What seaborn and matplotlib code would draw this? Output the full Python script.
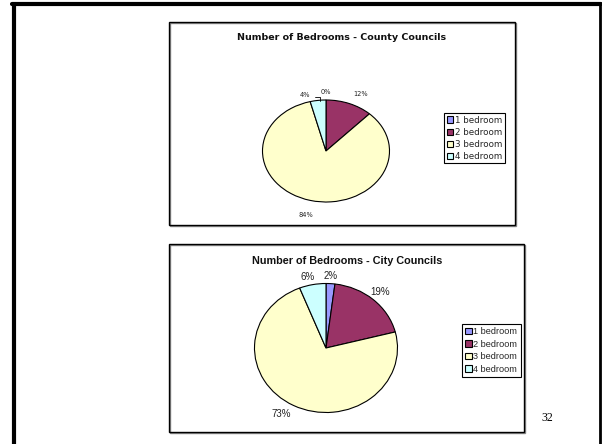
import matplotlib
matplotlib.use("Agg")
import matplotlib.pyplot as plt
import numpy as np
import seaborn as sns
from matplotlib.patches import Rectangle
from matplotlib.lines import Line2D

# Data
categories = ["1 bedroom", "2 bedroom", "3 bedroom", "4 bedroom"]
county_values = [0, 12, 84, 4]
city_values = [2, 19, 73, 6]
county_title = "Number of Bedrooms - County Councils"
city_title = "Number of Bedrooms - City Councils"
page_number = "32"

sns.set_theme(style="white")
plt.rcParams["font.family"] = ["Liberation Sans", "DejaVu Sans"]
palette = sns.color_palette(["#9999FF", "#993366", "#FFFFCC", "#CCFFFF"])

W, H = 602, 444
fig = plt.figure(figsize=(W / 100, H / 100), dpi=100)
fig.patch.set_facecolor("white")


def fx(x):
    return x / W


def fy(y):
    return 1 - y / H


def page_line(xs, ys, lw, color="black"):
    fig.add_artist(Line2D([fx(v) for v in xs], [fy(v) for v in ys], lw=lw,
                          color=color, transform=fig.transFigure))


# page frame
page_line([13.5, 13.5], [4.5, 450], 3.0)
page_line([12, 601], [4.5, 4.5], 3.0)
page_line([599.5, 599.5], [3, 450], 2.0)


def chart_box(x0, y0, x1, y1):
    # drop shadow then the black frame, kept beneath the pies
    fig.add_artist(Rectangle((fx(x0 + 1), fy(y1 + 1)), (x1 - x0) / W, (y1 - y0) / H,
                             transform=fig.transFigure, fill=False,
                             edgecolor="#888888", lw=1.0, zorder=-2))
    fig.add_artist(Rectangle((fx(x0), fy(y1)), (x1 - x0) / W, (y1 - y0) / H,
                             transform=fig.transFigure, fill=False,
                             edgecolor="black", lw=1.0, zorder=-1))


def pie_chart(values, cx, cy, rx, ry, dists, fontsize, family):
    ax = fig.add_axes([fx(cx - rx), fy(cy + ry), 2 * rx / W, 2 * ry / H])
    ax.patch.set_alpha(0)
    wedges, _ = ax.pie(values, colors=palette, startangle=90, counterclock=False,
                       radius=1, wedgeprops=dict(edgecolor="black", linewidth=0.8))
    ax.set_aspect("auto")
    ax.set_xlim(-1, 1)
    ax.set_ylim(-1, 1)
    ax.axis("off")
    for w, v, d in zip(wedges, values, dists):
        mid = np.deg2rad((w.theta1 + w.theta2) / 2)
        ax.text(d[0] * np.cos(mid) + d[1], d[0] * np.sin(mid) + d[2], f"{v}%",
                ha="center", va="center", fontsize=fontsize, family=family,
                color="#222222", clip_on=False)
    return ax, wedges


# ---- County Councils ----
chart_box(169, 22, 515, 225)
fig.text(fx(342), fy(37), county_title, ha="center", va="center", fontsize=6.8,
         fontweight="bold", family=["DejaVu Sans"], color="#111111")
ax1, w1 = pie_chart(county_values, 326, 151, 63.5, 51,
                    [(1.15, 0, 0), (1.2, 0.1, 0), (1.3, 0, 0), (1.1, -0.2, 0)],
                    4.8, ["DejaVu Sans"])
# leader line for the thin 4% slice
ax1.plot([-0.17, -0.09, -0.09], [1.05, 1.05, 0.99], color="black", lw=0.6,
         clip_on=False)
leg1 = fig.legend(w1, categories, loc="upper left",
                  bbox_to_anchor=(fx(444), fy(113)), frameon=True, fancybox=False,
                  edgecolor="black", framealpha=1, borderpad=0.3,
                  handlelength=0.7, handleheight=0.7, handletextpad=0.25,
                  labelspacing=0.35, borderaxespad=0,
                  prop=dict(family="DejaVu Sans", size=6.3))
leg1.get_frame().set_linewidth(0.8)

# ---- City Councils ----
chart_box(169, 244, 524, 432)
fig.text(fx(347), fy(261), city_title, ha="center", va="center", fontsize=7.8,
         fontweight="bold", color="#111111")
ax2, w2 = pie_chart(city_values, 326, 348, 71.5, 64.5,
                    [(1.12, 0, 0), (1.15, 0, 0), (1.15, -0.1, 0), (1.12, -0.05, 0)],
                    7, ["Liberation Sans"])
leg2 = fig.legend(w2, categories, loc="upper left",
                  bbox_to_anchor=(fx(462), fy(324)), frameon=True, fancybox=False,
                  edgecolor="black", framealpha=1, borderpad=0.35,
                  handlelength=0.7, handleheight=0.7, handletextpad=0.2,
                  labelspacing=0.38, borderaxespad=0,
                  prop=dict(family="Liberation Sans", size=6.6))
leg2.get_frame().set_linewidth(0.8)

fig.text(fx(547), fy(418), page_number, ha="center", va="center", fontsize=8.5,
         family="Liberation Serif", color="black")

fig.savefig("out.png", dpi=100, facecolor="white")
